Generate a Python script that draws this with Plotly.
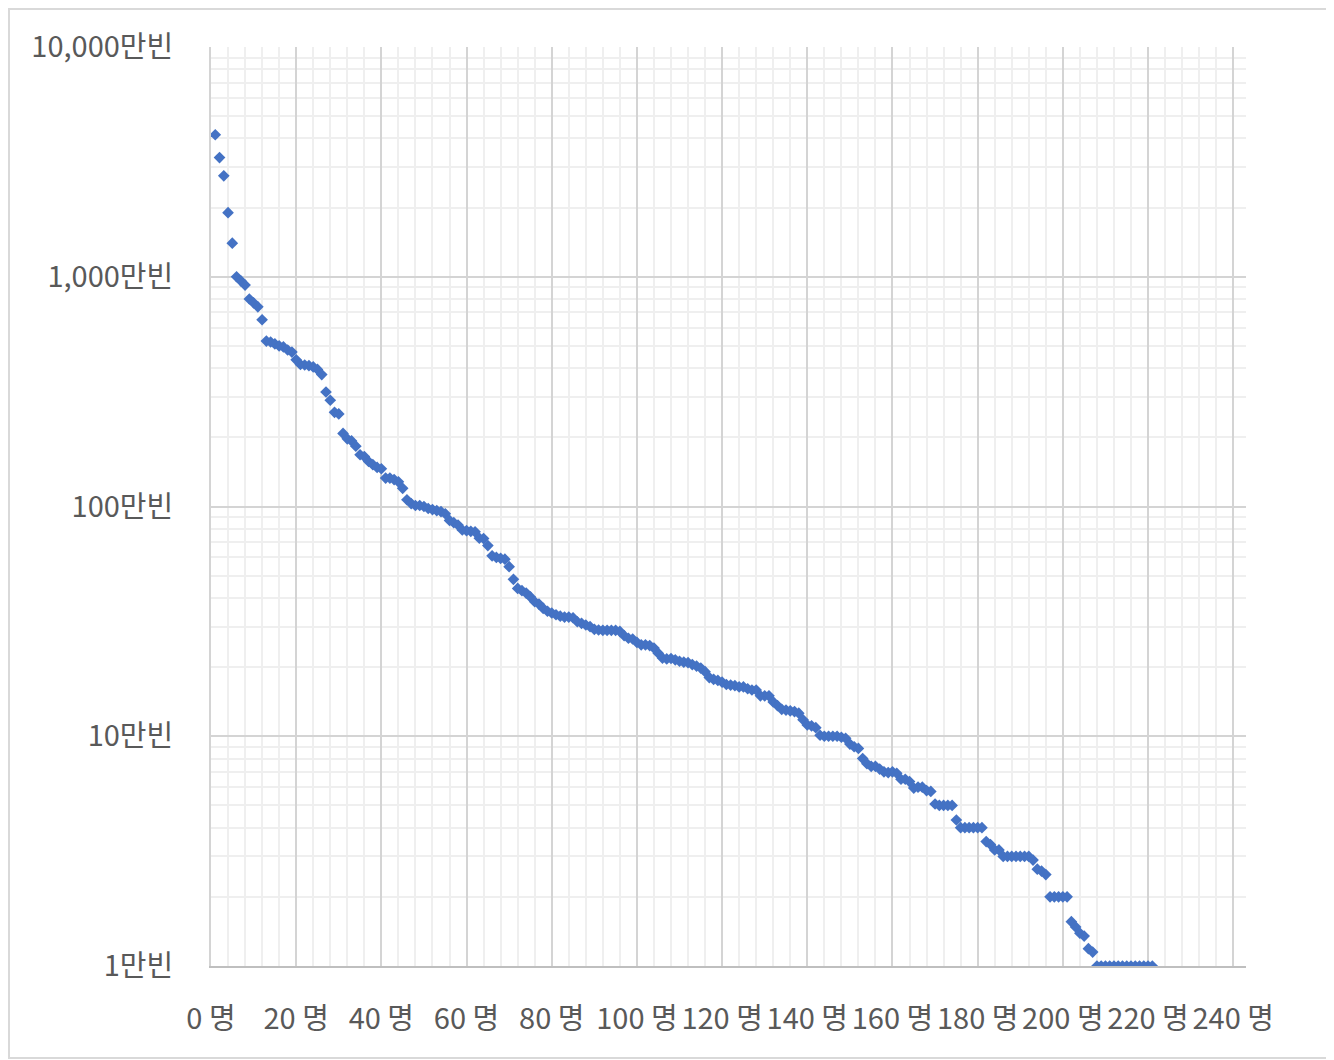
import plotly.graph_objects as go

# values in 만빈 units, ordered by rank (1..N)
values = [
    4150, 3300, 2750, 1900, 1400, 1000, 960, 920, 800, 770,
    740, 650, 525, 520, 510, 500, 495, 480, 470, 435,
    415, 413, 410, 405, 395, 375, 315, 290, 257, 253,
    208, 197, 193, 183, 168, 165, 157, 152, 148, 146,
    133, 133, 131, 128, 120, 107, 103, 101, 101, 100,
    98, 97, 96, 95, 93, 87, 85, 83, 79, 78.5,
    78, 77.6, 72.8, 72.5, 67.6, 61, 60, 59.5, 59, 54.7,
    48.2, 44, 43, 42, 40.4, 38.5, 37.6, 36, 35, 34.4,
    33.8, 33.3, 33, 33, 32.8, 31.5, 31, 30.5, 30, 29.2,
    29, 28.9, 28.9, 28.9, 28.9, 28.6, 27.4, 26.7, 26.5, 25.6,
    25, 25, 24.8, 24.2, 23, 21.9, 21.7, 21.8, 21.5, 21.2,
    21, 20.9, 20.5, 20.2, 19.8, 19.1, 18, 17.7, 17.5, 17.2,
    16.8, 16.7, 16.6, 16.4, 16.4, 16.1, 15.9, 15.9, 15, 15,
    15, 14.1, 13.6, 13.1, 13, 12.9, 12.8, 12.6, 11.8, 11.2,
    11.1, 10.9, 10.1, 10, 10, 10, 10, 9.9, 9.8, 9.25,
    9.0, 8.85, 8.0, 7.6, 7.4, 7.4, 7.2, 7.0, 6.95, 7.0,
    6.9, 6.5, 6.5, 6.35, 5.95, 6.0, 6.0, 5.8, 5.75, 5.07,
    5, 5, 5, 5, 4.32, 4, 4, 4, 4, 4,
    4, 3.48, 3.38, 3.2, 3.2, 3, 3, 3, 3, 3,
    3, 3, 2.89, 2.64, 2.59, 2.5, 2, 2, 2, 2,
    2, 1.56, 1.48, 1.39, 1.35, 1.19, 1.15, 1, 1, 1,
    1, 1, 1, 1, 1, 1, 1, 1, 1, 1,
    1,
]
ranks = list(range(1, len(values) + 1))

x_tickvals = [0, 20, 40, 60, 80, 100, 120, 140, 160, 180, 200, 220, 240]
x_ticktext = [f"{v} 명" for v in x_tickvals]
y_tickvals = [1, 10, 100, 1000, 10000]
y_ticktext = ["1만빈", "10만빈", "100만빈", "1,000만빈", "10,000만빈"]

FONT = "Noto Sans CJK KR"
TEXT = "#595959"
MAJOR = "#d4d4d4"
MINOR = "#efefef"

fig = go.Figure()
fig.add_trace(go.Scatter(
    x=ranks, y=values, mode="markers",
    marker=dict(symbol="diamond", size=9, color="#4472C4", line=dict(width=0)),
    showlegend=False,
))

# page has an 8px body margin; figure sized to fit the viewport
W, H = 1326, 1052
L, R, T, B = 203, 88, 39, 94
pw, ph = W - L - R, H - T - B

fig.update_layout(
    width=W, height=H,
    margin=dict(l=L, r=R, t=T, b=B),
    paper_bgcolor="white", plot_bgcolor="white",
    font=dict(family=FONT, color=TEXT, size=29),
    xaxis=dict(
        range=[0, 243], tickvals=x_tickvals, ticktext=x_ticktext,
        showgrid=True, gridcolor=MAJOR, gridwidth=2,
        minor=dict(dtick=4, tick0=0, showgrid=True, gridcolor=MINOR, gridwidth=2),
        zeroline=False, showline=True, linecolor="#bfbfbf", linewidth=2,
        ticks="", ticklabelstandoff=26,
        tickfont=dict(family=FONT, color=TEXT, size=29),
    ),
    yaxis=dict(
        type="log", range=[0, 4], tickvals=y_tickvals, ticktext=y_ticktext,
        showgrid=True, gridcolor=MAJOR, gridwidth=2,
        minor=dict(dtick="D1", showgrid=True, gridcolor=MINOR, gridwidth=2),
        zeroline=False, showline=True, linecolor=MAJOR, linewidth=2,
        ticks="", ticklabelstandoff=30,
        tickfont=dict(family=FONT, color=TEXT, size=29),
    ),
    shapes=[dict(
        type="rect", xref="paper", yref="paper",
        x0=(1 - L) / pw, x1=(W - 4 - L) / pw,
        y0=(H - B - (H - 2)) / ph, y1=(H - B - 1) / ph,
        line=dict(color="#d9d9d9", width=2), fillcolor="rgba(0,0,0,0)", layer="below",
    )],
)

fig.write_html("out.html")
